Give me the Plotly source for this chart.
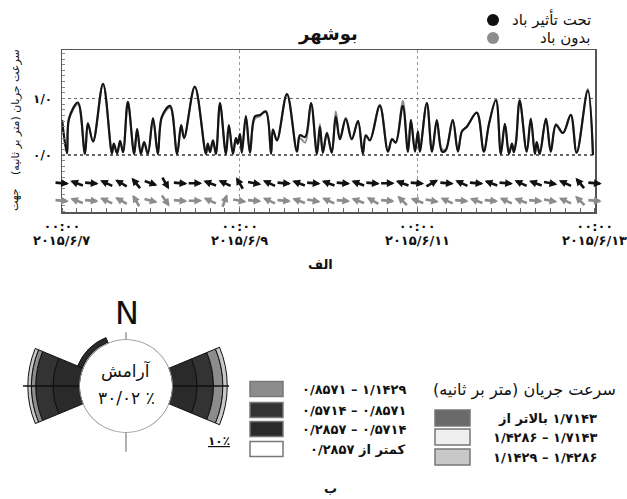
import numpy as np
import pandas as pd
import plotly.graph_objects as go

W, H = 627, 499
FONT = "DejaVu Sans"

# ---------------- data ----------------
start = pd.Timestamp("2015-06-07 00:00")
hours = [0, 1.35, 1.9, 4.3, 6.2, 7.0, 8.4, 11.1, 13.5, 14.0, 14.9, 15.7, 16.5, 17.8, 19.5, 20.3,
         21.3, 22.2, 23.2, 24.6, 25.9, 27.0, 29.2, 31.1, 32.2, 33.0, 35.9, 38.9, 39.4, 40.0, 40.8,
         41.6, 42.7, 44.3, 45.1, 46.2, 47.0, 47.5, 48.1, 48.6, 49.7, 50.8, 52.1, 53.5, 55.1, 56.5,
         57.0, 58.1, 60.8, 63.5, 64.3, 65.7, 67.3, 68.9, 69.7, 70.5, 71.6, 72.9, 74.0, 75.1, 76.7,
         78.3, 80.0, 81.3, 82.1, 83.2, 85.9, 88.1, 89.2, 90.2, 92.1, 93.5, 94.3, 95.4, 96.2, 96.7,
         98.6, 100.0, 101.3, 102.7, 103.7, 105.6, 107.0, 108.1, 109.4, 112.1, 114.0, 115.4, 117.3,
         118.6, 119.7, 120.8, 121.6, 122.1, 122.7, 123.7, 125.6, 126.7, 127.8, 128.3, 129.1, 130.8,
         132.1, 133.5, 135.4, 137.5, 139.1, 142.1, 143.5]
speed_wind = [0.62, 0.03, 0.65, 0.93, 0.02, 0.56, 0.24, 1.26, 0.03, 0.2, 0.03, 0.25, 0.05, 0.94,
              0.02, 0.46, 0.02, 0.23, 0.02, 0.65, 0.02, 0.68, 0.87, 0.02, 0.53, 0.3, 1.21, 0.02,
              0.2, 0.05, 0.26, 0.02, 0.92, 0.02, 0.53, 0.02, 0.3, 0.2, 0.37, 0.04, 0.69, 0.04, 0.68,
              0.71, 0.77, 0.02, 0.45, 0.26, 1.08, 0.06, 0.35, 0.32, 0.92, 0.02, 0.5, 0.04, 0.39,
              0.04, 0.68, 0.28, 0.64, 0.28, 0.6, 0.02, 0.35, 0.26, 0.87, 0.06, 0.28, 0.22, 0.87,
              0.06, 0.62, 0.06, 0.42, 0.06, 0.92, 0.06, 0.62, 0.06, 0.08, 0.62, 0.06, 0.42, 0.5,
              0.75, 0.06, 0.55, 0.97, 0.02, 0.55, 0.02, 0.2, 0.05, 0.23, 0.97, 0.06, 0.64, 0.02,
              0.23, 0.02, 0.64, 0.06, 0.53, 0.39, 0.71, 0.04, 1.14, 0.0]
speed_nowind = [0.62, 0.03, 0.63, 0.9, 0.02, 0.56, 0.24, 1.26, 0.03, 0.2,
                0.03, 0.25, 0.05, 0.94, 0.02, 0.46, 0.02, 0.23, 0.02, 0.65,
                0.02, 0.66, 0.84, 0.02, 0.53, 0.3, 1.21, 0.02, 0.2, 0.05,
                0.26, 0.02, 0.92, 0.02, 0.53, 0.02, 0.3, 0.2, 0.37, 0.04,
                0.67, 0.04, 0.64, 0.69, 0.77, 0.02, 0.45, 0.26, 1.08, 0.06,
                0.3, 0.22, 0.92, 0.02, 0.55, 0.04, 0.4, 0.04, 0.77, 0.28,
                0.66, 0.28, 0.6, 0.02, 0.35, 0.26, 0.89, 0.06, 0.28, 0.22,
                0.96, 0.06, 0.62, 0.06, 0.42, 0.06, 0.92, 0.06, 0.58, 0.1,
                0.1, 0.62, 0.06, 0.42, 0.5, 0.75, 0.06, 0.55, 0.99, 0.02,
                0.55, 0.02, 0.2, 0.05, 0.23, 0.97, 0.06, 0.64, 0.02, 0.23,
                0.02, 0.64, 0.06, 0.55, 0.39, 0.71, 0.04, 1.17, 0.0]

# current direction (deg, toward), every 4 hours
dir_step_h = 4
dir_wind = [95, 290, 95, 295, 300, 320, 110, 150, 95, 90, 290, 295, 330, 100, 295, 95, 290, 95, 290,
            95, 290, 95, 90, 290, 95, 60, 95, 295, 95, 290, 95, 295, 290, 100, 295, 320, 95]
dir_nowind = [95, 290, 95, 295, 300, 330, 105, 145, 95, 90, 295, 20, 100, 95, 295, 95, 290, 100, 295,
              95, 290, 300, 95, 315, 290, 100, 295, 95, 290, 95, 295, 290, 95, 100, 295, 315, 95]
row_wind, row_nowind = -0.5, -0.81

tick_hours = [0, 48, 96, 144]
tick_dates = ["۲۰۱۵/۶/۷", "۲۰۱۵/۶/۹", "۲۰۱۵/۶/۱۱", "۲۰۱۵/۶/۱۳"]
tick_time = "۰۰:۰۰"

# rose data (percent)
rose_dirs = [315, 90, 270]
rose_bins = ["کمتر از ۰/۲۸۵۷", "۰/۲۸۵۷ – ۰/۵۷۱۴", "۰/۵۷۱۴ – ۰/۸۵۷۱", "۰/۸۵۷۱ – ۱/۱۴۲۹",
             "۱/۱۴۲۹ – ۱/۴۲۸۶", "۱/۴۲۸۶ – ۱/۷۱۴۳", "بالاتر از\u200e ۱/۷۱۴۳"]
rose_colors = ["#ffffff", "#2a2a2a", "#333333", "#8c8c8c", "#c8c8c8", "#efefef", "#6a6a6a"]
rose_values = [
    [0.7, 0.0, 0.0],
    [2.2, 11.4, 12.3],
    [0.0, 7.5, 7.9],
    [0.0, 4.3, 2.0],
    [0.0, 2.0, 1.6],
    [0.0, 0.0, 0.0],
    [0.0, 0.0, 0.0],
]
calm_pct = "۳۰/۰۲ ٪"

# ---------------- helpers ----------------
def px(x):
    return x / W

def py(y):
    return 1 - y / H

times = start + pd.to_timedelta(hours, unit="h")

fig = go.Figure()
fig.add_trace(go.Scatter(x=times, y=speed_nowind, mode="lines",
                         line=dict(color="#8c8c8c", width=2, shape="spline", smoothing=1.0),
                         showlegend=False, xaxis="x", yaxis="y"))
fig.add_trace(go.Scatter(x=times, y=speed_wind, mode="lines",
                         line=dict(color="#151515", width=2.2, shape="spline", smoothing=1.0),
                         showlegend=False, xaxis="x", yaxis="y"))

# rose
for vals, col in zip(rose_values, rose_colors):
    fig.add_trace(go.Barpolar(r=vals, theta=rose_dirs, width=[45] * len(rose_dirs),
                              marker=dict(color=col, line=dict(color="#111", width=1)),
                              showlegend=False, subplot="polar"))
R_MAX = 26
for th in (90, 270):
    fig.add_trace(go.Scatterpolar(r=[0, R_MAX], theta=[th, th], mode="lines",
                                  line=dict(color="#111", width=1.3), showlegend=False,
                                  subplot="polar"))
fig.add_trace(go.Scatterpolar(r=[0, 3.5], theta=[0, 0], mode="lines",
                              line=dict(color="#888", width=1.3), showlegend=False, subplot="polar"))
fig.add_trace(go.Scatterpolar(r=[0, 9], theta=[180, 180], mode="lines",
                              line=dict(color="#888", width=1.3), showlegend=False, subplot="polar"))
circ_theta = list(range(0, 361, 3))
fig.add_trace(go.Scatterpolar(r=[0.02] * len(circ_theta), theta=circ_theta, mode="lines",
                              line=dict(color="#999", width=1.5), showlegend=False, subplot="polar"))

annotations = []
# direction arrows
L = 14
for row, dirs, col in ((row_wind, dir_wind, "#111111"), (row_nowind, dir_nowind, "#8c8c8c")):
    for i, d in enumerate(dirs):
        t = start + pd.Timedelta(hours=dir_step_h * i)
        a = np.deg2rad(d)
        dx, dy = np.sin(a), np.cos(a)
        annotations.append(dict(x=t.strftime("%Y-%m-%d %H:%M:%S"), y=row, xref="x", yref="y",
                                text="", font=dict(size=1), borderpad=0, standoff=0, startstandoff=0,
                                showarrow=True, arrowhead=2, arrowsize=0.6,
                                arrowwidth=2.6, arrowcolor=col,
                                ax=-L * dx, ay=L * dy, xshift=L / 2 * dx, yshift=L / 2 * dy))

# date labels under the time tick labels
for h, d in zip(tick_hours, tick_dates):
    t = start + pd.Timedelta(hours=h)
    annotations.append(dict(x=t.strftime("%Y-%m-%d %H:%M:%S"), y=py(241), xref="x", yref="paper",
                            text=d, showarrow=False, xanchor="center", yanchor="middle",
                            font=dict(family=FONT, size=13, color="#111", weight="bold")))

def txt(x, y, s, size=13, anchor="center", bold=False, angle=0, color="#111"):
    annotations.append(dict(x=px(x), y=py(y), xref="paper", yref="paper", text=s,
                            showarrow=False, xanchor=anchor, yanchor="middle", textangle=angle,
                            borderpad=0,
                            font=dict(family=FONT, size=size, color=color,
                                      weight="bold" if bold else "normal")))

txt(328, 34, "بوشهر", size=18, bold=True)
txt(592, 19, "تحت تأثیر باد", size=15, anchor="right")
txt(592, 38, "بدون باد", size=15, anchor="right")
txt(15, 112, "سرعت جریان (متر بر ثانیه)", size=11, angle=-90)
txt(15, 200, "جهت", size=11, angle=-90)
txt(320, 264, "الف", size=13, bold=True)
txt(330, 488, "ب", size=13, bold=True)
txt(127, 313, "N", size=32)
txt(126, 370, "آرامش", size=17)
txt(126, 398, calm_pct, size=17)
txt(219, 441, "<u>۱۰٪</u>", size=12, bold=True)

shapes = []
shapes.append(dict(type="circle", xref="paper", yref="paper", x0=px(487), x1=px(499), y0=py(26), y1=py(14),
                   fillcolor="#111", line=dict(color="#111", width=0)))
shapes.append(dict(type="circle", xref="paper", yref="paper", x0=px(487), x1=px(499), y0=py(44), y1=py(32),
                   fillcolor="#8c8c8c", line=dict(color="#8c8c8c", width=0)))

# legend of rose (left column: bins 3..0, right column: bins 6,5,4)
left_rows = [(3, 389), (2, 410), (1, 429), (0, 449)]
for b, yc in left_rows:
    shapes.append(dict(type="rect", xref="paper", yref="paper", x0=px(250), x1=px(283),
                       y0=py(yc + 7.5), y1=py(yc - 7.5), fillcolor=rose_colors[b],
                       line=dict(color="#777", width=1.5)))
    txt(407, yc, rose_bins[b], size=13, anchor="right", bold=True)
txt(617, 390, "سرعت جریان (متر بر ثانیه)", size=16, anchor="right")
right_rows = [(6, 418), (5, 437), (4, 457)]
for b, yc in right_rows:
    shapes.append(dict(type="rect", xref="paper", yref="paper", x0=px(435), x1=px(470),
                       y0=py(yc + 8), y1=py(yc - 8), fillcolor=rose_colors[b],
                       line=dict(color="#777", width=1.5)))
    txt(598, yc, rose_bins[b], size=13, anchor="right", bold=True)

x0 = start
x1 = start + pd.Timedelta(hours=144.05)
fig.update_layout(
    width=W, height=H, margin=dict(l=0, r=0, t=0, b=0, autoexpand=False),
    paper_bgcolor="white", plot_bgcolor="white",
    xaxis=dict(domain=[px(62), px(595)], range=[x0, x1], type="date", automargin=False,
               tickvals=[start + pd.Timedelta(hours=h) for h in tick_hours],
               ticktext=[tick_time] * len(tick_hours),
               tickfont=dict(family=FONT, size=13, color="#111", weight="bold"),
               ticks="", ticklabelstandoff=2,
               showline=True, mirror=True, linecolor="#555", linewidth=1.5,
               showgrid=True, gridcolor="#999", griddash="dot", gridwidth=1,
               minor=dict(dtick=dir_step_h * 3600 * 1000, ticks="inside", ticklen=4,
                          tickcolor="#666", showgrid=False),
               zeroline=False, fixedrange=True),
    yaxis=dict(domain=[py(212), py(50)], range=[-1.01, 1.86], automargin=False,
               tickvals=[0, 1], ticktext=["۰/۰", "۱/۰"],
               tickfont=dict(family=FONT, size=12, color="#111", weight="bold"),
               ticks="", ticklabelstandoff=6,
               showline=True, mirror=True, linecolor="#555", linewidth=1.5,
               showgrid=True, gridcolor="#666", griddash="dot", gridwidth=1.2,
               minor=dict(dtick=0.1, ticks="inside", ticklen=3, tickcolor="#888", showgrid=False),
               zeroline=False, fixedrange=True),
    polar=dict(domain=dict(x=[px(23), px(229)], y=[py(489), py(283)]), hole=0.447,
               bgcolor="white",
               angularaxis=dict(visible=False, direction="clockwise", rotation=90),
               radialaxis=dict(visible=False, range=[0, R_MAX])),
    annotations=annotations, shapes=shapes,
)

fig.write_html("out.html", config={"displayModeBar": False, "staticPlot": True},
               post_script="document.body.style.margin='0';")
